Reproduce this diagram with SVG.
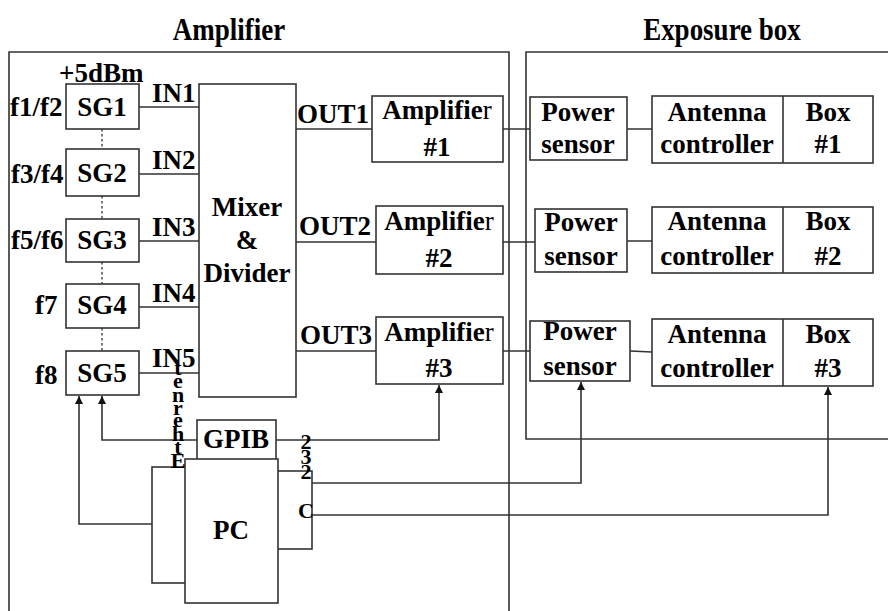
<svg xmlns="http://www.w3.org/2000/svg" width="888" height="611" viewBox="0 0 888 611">
<style>
text{font-family:"Liberation Serif","Times New Roman","DejaVu Serif",serif;font-weight:bold;font-size:27px;fill:#000}
.c{text-anchor:middle}
.box{fill:#fff;stroke:#333;stroke-width:1.6}
.frame{fill:none;stroke:#333;stroke-width:1.6}
.ln{fill:none;stroke:#333;stroke-width:1.6}
.dot{fill:none;stroke:#333;stroke-width:1.3;stroke-dasharray:2.5 2.5}
.n{font-weight:normal}
.v{font-size:22px}
</style>
<defs>
<marker id="arr" viewBox="0 0 10 10" refX="10" refY="5" markerWidth="8" markerHeight="8" markerUnits="userSpaceOnUse" orient="auto">
<path d="M0,0 L10,5 L0,10 z" fill="#111"/>
</marker>
</defs>
<rect width="888" height="611" fill="#fff"/>

<g id="titles">
<text class="c" x="229" y="40" transform="translate(0,-6) scale(1,1.15)">Amplifier</text>
<text class="c" x="722" y="40" transform="translate(0,-6) scale(1,1.15)">Exposure box</text>
</g>

<g id="amplifier-frame"><path class="frame" d="M9,620 V52 H509 V620"/></g>
<g id="exposure-frame"><path class="frame" d="M895,52 H526 V439 H895"/></g>

<g id="connectors">
<path class="dot" d="M102,129 V149 M102,196 V219 M102,262 V284 M102,328 V351"/>
<path class="ln" d="M139,107 H199 M139,174 H199 M139,241 H199 M139,307 H199 M139,373 H199"/>
<path class="ln" d="M296,129 H372 M296,242 H376 M296,351 H376"/>
<path class="ln" d="M500,129 H530 M503,242 H535 M503,351 H530"/>
<path class="ln" d="M627,129 H652 M627,241 H652 M630,351 L652,352"/>
<path class="ln" d="M152,524 H79 V396" marker-end="url(#arr)"/>
<path class="ln" d="M197,440 H102 V396" marker-end="url(#arr)"/>
<path class="ln" d="M276,440 H439 V385" marker-end="url(#arr)"/>
<path class="ln" d="M312,483 H581 V382" marker-end="url(#arr)"/>
<path class="ln" d="M312,515 H828 V387" marker-end="url(#arr)"/>
</g>

<g id="sg1"><rect class="box" x="66" y="84" width="73" height="45"/><text class="c" x="102" y="116">SG1</text></g>
<g id="sg2"><rect class="box" x="66" y="149" width="73" height="47"/><text class="c" x="102" y="182">SG2</text></g>
<g id="sg3"><rect class="box" x="66" y="219" width="73" height="43"/><text class="c" x="102" y="249">SG3</text></g>
<g id="sg4"><rect class="box" x="66" y="284" width="73" height="44"/><text class="c" x="102" y="314">SG4</text></g>
<g id="sg5"><rect class="box" x="66" y="351" width="73" height="44"/><text class="c" x="102" y="382">SG5</text></g>

<g id="sg-labels">
<text x="59" y="82">+5dBm</text>
<text x="10" y="116">f1/f2</text>
<text x="11" y="183">f3/f4</text>
<text x="11" y="249">f5/f6</text>
<text x="35" y="314">f7</text>
<text x="35" y="384">f8</text>
<text x="152" y="102">IN1</text>
<text x="152" y="169">IN2</text>
<text x="152" y="236">IN3</text>
<text x="152" y="302">IN4</text>
<text x="152" y="367">IN5</text>
</g>

<g id="mixer"><rect class="box" x="199" y="84" width="97" height="313"/>
<text class="c" x="247" y="216">Mixer</text>
<text class="c" x="247" y="249">&amp;</text>
<text class="c" x="247" y="282">Divider</text></g>

<g id="out-labels">
<text x="297" y="123">OUT1</text>
<text x="299" y="235">OUT2</text>
<text x="300" y="344">OUT3</text>
</g>

<g id="amp1"><rect class="box" x="372" y="96" width="131" height="66"/><text class="c" x="437" y="119">Amplifie<tspan class="n">r</tspan></text><text class="c" x="437" y="156">#1</text></g>
<g id="amp2"><rect class="box" x="376" y="206" width="127" height="68"/><text class="c" x="439" y="230">Amplifie<tspan class="n">r</tspan></text><text class="c" x="439" y="267">#2</text></g>
<g id="amp3"><rect class="box" x="376" y="317" width="127" height="67"/><text class="c" x="439" y="341">Amplifie<tspan class="n">r</tspan></text><text class="c" x="439" y="377">#3</text></g>

<g id="ps1"><rect class="box" x="530" y="97" width="97" height="63"/><text class="c" x="578" y="121">Power</text><text class="c" x="578" y="153">sensor</text></g>
<g id="ps2"><rect class="box" x="535" y="209" width="92" height="63"/><text class="c" x="581" y="231">Power</text><text class="c" x="581" y="265">sensor</text></g>
<g id="ps3"><rect class="box" x="530" y="321" width="100" height="60"/><text class="c" x="580" y="340">Power</text><text class="c" x="580" y="375">sensor</text></g>

<g id="ant1"><rect class="box" x="652" y="96" width="221" height="67"/><path class="ln" d="M783,96 V163"/>
<text class="c" x="717" y="121">Antenna</text><text class="c" x="717" y="153">controller</text>
<text class="c" x="828" y="121">Box</text><text class="c" x="828" y="153">#1</text></g>
<g id="ant2"><rect class="box" x="652" y="207" width="221" height="66"/><path class="ln" d="M783,207 V273"/>
<text class="c" x="717" y="230">Antenna</text><text class="c" x="717" y="265">controller</text>
<text class="c" x="828" y="230">Box</text><text class="c" x="828" y="265">#2</text></g>
<g id="ant3"><rect class="box" x="652" y="319" width="221" height="67"/><path class="ln" d="M783,319 V386"/>
<text class="c" x="717" y="343">Antenna</text><text class="c" x="717" y="377">controller</text>
<text class="c" x="828" y="343">Box</text><text class="c" x="828" y="377">#3</text></g>

<g id="gpib"><rect class="box" x="197" y="420" width="79" height="40"/><text class="c" x="236" y="448">GPIB</text></g>

<g id="pc">
<rect class="box" x="152" y="467" width="60" height="116"/>
<rect class="box" x="250" y="471" width="62" height="78"/>
<rect class="box" x="185" y="459" width="93" height="144"/>
<text class="c" x="231" y="539">PC</text>
</g>

<g id="vertical-labels">
<text class="c v" x="178" y="375">t</text>
<text class="c v" x="178" y="388">e</text>
<text class="c v" x="178" y="402">n</text>
<text class="c v" x="178" y="415">r</text>
<text class="c v" x="178" y="427">e</text>
<text class="c v" x="178" y="441">h</text>
<text class="c v" x="178" y="454">t</text>
<text class="c v" x="178" y="468">E</text>
<text class="c v" x="306" y="449">2</text>
<text class="c v" x="306" y="464">3</text>
<text class="c v" x="306" y="479">2</text>
<text class="c v" x="306" y="518">C</text>
</g>
</svg>
